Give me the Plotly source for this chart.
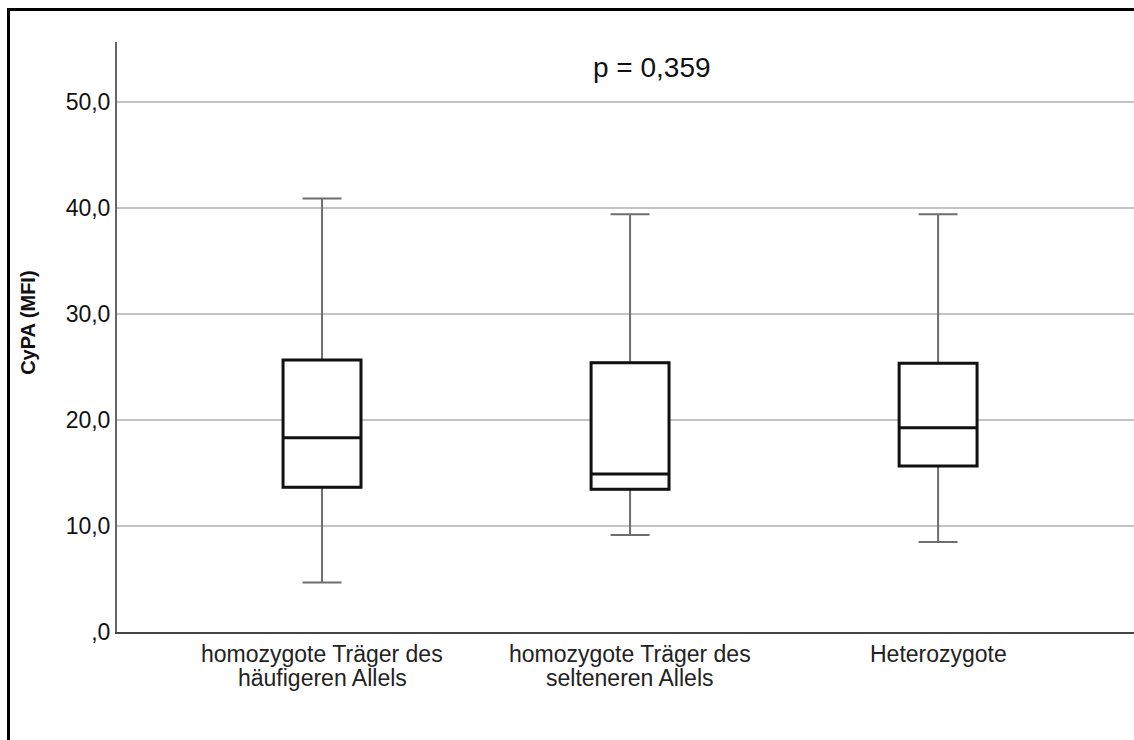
import plotly.graph_objects as go

category_lines = [["homozygote Träger des", "häufigeren Allels"],
                  ["homozygote Träger des", "selteneren Allels"],
                  ["Heterozygote"]]
positions = [0, 1, 2]
lower_whisker = [4.66, 9.15, 8.49]
q1 = [13.65, 13.46, 15.66]
median = [18.33, 14.9, 19.27]
q3 = [25.66, 25.4, 25.35]
upper_whisker = [40.9, 39.4, 39.4]
y_ticks = [0, 10, 20, 30, 40, 50]
y_ticktext = [",0", "10,0", "20,0", "30,0", "40,0", "50,0"]
p_text = "p = 0,359"
y_title = "CyPA (MFI)"

FONT = "Liberation Sans, Arial, sans-serif"
BOXW = 0.253

fig = go.Figure()
# whiskers (gray)
fig.add_trace(go.Box(
    x=positions, q1=q1, median=median, q3=q3,
    lowerfence=lower_whisker, upperfence=upper_whisker,
    width=BOXW, whiskerwidth=0.5, fillcolor="white",
    line=dict(color="#6e6e6e", width=2), boxpoints=False,
    hoverinfo="skip", showlegend=False))
# box (black) on top
fig.add_trace(go.Box(
    x=positions, q1=q1, median=median, q3=q3,
    lowerfence=q1, upperfence=q3,
    width=BOXW, whiskerwidth=0, fillcolor="white",
    line=dict(color="#111111", width=3), boxpoints=False,
    hoverinfo="skip", showlegend=False))

annotations = [
    dict(text=p_text, xref="paper", yref="paper", x=0.526, y=0.956,
         showarrow=False, xanchor="center", yanchor="middle",
         font=dict(size=28, family=FONT, color="#111111")),
    dict(text="<b>" + y_title + "</b>", xref="paper", yref="paper",
         x=-0.0875, y=0.524, textangle=-90, showarrow=False,
         xanchor="center", yanchor="middle",
         font=dict(size=20, family=FONT, color="#111111")),
]
line_y = [-0.0373, -0.078]
for pos, lines in zip(positions, category_lines):
    for i, ln in enumerate(lines):
        annotations.append(dict(
            text=ln, x=pos, xref="x", y=line_y[i], yref="paper",
            showarrow=False, xanchor="center", yanchor="middle",
            font=dict(size=23, family=FONT, color="#222222")))

fig.update_layout(
    width=1134, height=740,
    margin=dict(l=117, r=0, t=42, b=108),
    paper_bgcolor="white", plot_bgcolor="white",
    boxmode="overlay", showlegend=False,
    font=dict(family=FONT, color="#1a1a1a"),
    xaxis=dict(range=[-0.6656, 2.636], tickvals=positions,
               ticktext=["" for _ in positions],
               showgrid=False, zeroline=False, showline=True,
               linecolor="#444444", linewidth=2, ticks=""),
    yaxis=dict(range=[0, 55.66], tickvals=y_ticks, ticktext=y_ticktext,
               showgrid=True, gridcolor="#c4c4c4", gridwidth=1.5,
               zeroline=False, showline=True, linecolor="#666666", linewidth=2,
               ticks="", tickfont=dict(size=23, family=FONT, color="#111111")),
    annotations=annotations,
    shapes=[dict(type="rect", xref="paper", yref="paper",
                 x0=-0.1067, x1=1.06, y0=-0.25, y1=1.0551,
                 line=dict(color="black", width=3), layer="above")],
)

fig.write_html("out.html")
